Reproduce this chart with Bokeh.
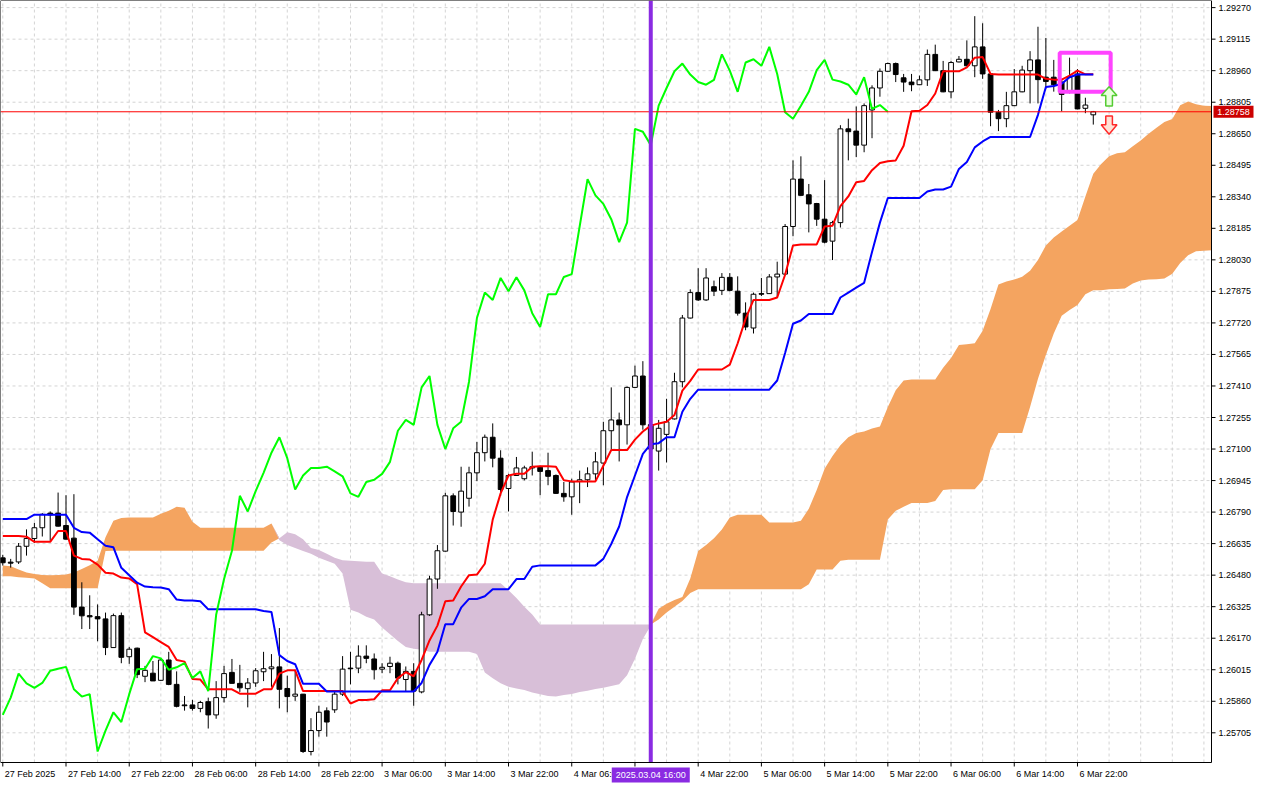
import numpy as np
from bokeh.plotting import figure
from bokeh.models import Range1d
from bokeh.embed import file_html
from bokeh.resources import INLINE
from bokeh.core.properties import value

# ---------------- data (H1 bars) ----------------
opens = [1.26565, 1.26544, 1.26545, 1.26622, 1.26660, 1.26713, 1.26785, 1.26785, 1.26724, 1.26662,
         1.26323, 1.26281, 1.26276, 1.26265, 1.26124, 1.26281, 1.26079, 1.26121, 1.25983, 1.25998,
         1.25963, 1.26063, 1.25943, 1.25842, 1.25842, 1.25825, 1.25858, 1.25793, 1.25878, 1.26002,
         1.25948, 1.25922, 1.25950, 1.26005, 1.26020, 1.26029, 1.25923, 1.25885, 1.25895, 1.25613,
         1.25716, 1.25813, 1.25818, 1.25895, 1.26023, 1.26023, 1.26082, 1.26068, 1.26018, 1.26031,
         1.26047, 1.25967, 1.26007, 1.25906, 1.26285, 1.26461, 1.26598, 1.26870, 1.26790, 1.26858,
         1.26983, 1.27082, 1.27158, 1.27055, 1.26906, 1.26970, 1.26954, 1.27007, 1.27010, 1.26994,
         1.26970, 1.26882, 1.26865, 1.26941, 1.26949, 1.26978, 1.27031, 1.27190, 1.27243, 1.27219,
         1.27403, 1.27459, 1.27220, 1.27090, 1.27172, 1.27248, 1.27431, 1.27744, 1.27869, 1.27833,
         1.27898, 1.27880, 1.27944, 1.27876, 1.27768, 1.27695, 1.27864, 1.27864, 1.27946, 1.27960,
         1.28194, 1.28427, 1.28350, 1.28307, 1.28230, 1.28122, 1.28213, 1.28674, 1.28663, 1.28594,
         1.28767, 1.28875, 1.28957, 1.28995, 1.28925, 1.28904, 1.28891, 1.28915, 1.29040, 1.28960,
         1.28856, 1.29003, 1.29016, 1.28984, 1.29077, 1.28944, 1.28756, 1.28724, 1.28788, 1.28856,
         1.28960, 1.29013, 1.28928, 1.28928, 1.28904, 1.28859, 1.28944, 1.28775, 1.28743]

highs = [1.26580, 1.26560, 1.26638, 1.26705, 1.26737, 1.26785, 1.26793, 1.26886, 1.26873, 1.26878,
         1.26445, 1.26381, 1.26336, 1.26296, 1.26291, 1.26296, 1.26127, 1.26124, 1.26034, 1.26058,
         1.26071, 1.26103, 1.26007, 1.25886, 1.25867, 1.25862, 1.25878, 1.25959, 1.26034, 1.26068,
         1.26039, 1.25974, 1.26023, 1.26103, 1.26092, 1.26220, 1.25986, 1.26015, 1.25896, 1.25777,
         1.25838, 1.25830, 1.25906, 1.26082, 1.26103, 1.26135, 1.26135, 1.26095, 1.26047, 1.26079,
         1.26055, 1.26031, 1.26047, 1.26300, 1.26477, 1.26628, 1.26885, 1.26882, 1.27013, 1.27013,
         1.27135, 1.27171, 1.27226, 1.27094, 1.26978, 1.27061, 1.27018, 1.27087, 1.27018, 1.27082,
         1.26975, 1.26938, 1.26954, 1.26994, 1.27010, 1.27085, 1.27234, 1.27403, 1.27279, 1.27408,
         1.27510, 1.27532, 1.27244, 1.27243, 1.27347, 1.27475, 1.27759, 1.27885, 1.27989, 1.27989,
         1.27928, 1.27965, 1.27965, 1.27949, 1.27821, 1.27869, 1.27941, 1.27960, 1.28021, 1.28206,
         1.28519, 1.28539, 1.28403, 1.28310, 1.28422, 1.28222, 1.28692, 1.28724, 1.28784, 1.28799,
         1.28888, 1.28971, 1.29000, 1.29000, 1.28944, 1.28944, 1.28936, 1.29064, 1.29088, 1.29008,
         1.29008, 1.29032, 1.29109, 1.29228, 1.29193, 1.28946, 1.28767, 1.28856, 1.28968, 1.28984,
         1.29056, 1.29176, 1.29121, 1.29013, 1.28920, 1.29024, 1.28968, 1.28827, 1.28762]

lows = [1.26527, 1.26517, 1.26535, 1.26576, 1.26638, 1.26670, 1.26649, 1.26719, 1.26655, 1.26285,
        1.26215, 1.26215, 1.26155, 1.26087, 1.26122, 1.26047, 1.26044, 1.25974, 1.25954, 1.25960,
        1.25960, 1.25939, 1.25830, 1.25814, 1.25814, 1.25806, 1.25726, 1.25774, 1.25854, 1.25948,
        1.25906, 1.25830, 1.25931, 1.25959, 1.25931, 1.25825, 1.25806, 1.25862, 1.25606, 1.25594,
        1.25686, 1.25686, 1.25803, 1.25886, 1.25943, 1.25998, 1.26047, 1.25967, 1.25998, 1.25998,
        1.25943, 1.25910, 1.25838, 1.25899, 1.26280, 1.26413, 1.26596, 1.26724, 1.26718, 1.26817,
        1.26942, 1.27039, 1.27010, 1.26869, 1.26793, 1.26968, 1.26946, 1.26970, 1.26873, 1.26922,
        1.26880, 1.26841, 1.26777, 1.26834, 1.26913, 1.26946, 1.26922, 1.27098, 1.27039, 1.27122,
        1.27400, 1.27195, 1.27042, 1.26994, 1.27034, 1.27245, 1.27403, 1.27742, 1.27828, 1.27828,
        1.27852, 1.27857, 1.27875, 1.27756, 1.27684, 1.27668, 1.27852, 1.27862, 1.27845, 1.27957,
        1.28146, 1.28345, 1.28165, 1.28197, 1.28111, 1.28029, 1.28189, 1.28519, 1.28535, 1.28559,
        1.28628, 1.28832, 1.28955, 1.28904, 1.28856, 1.28859, 1.28889, 1.28885, 1.28958, 1.28854,
        1.28824, 1.29001, 1.28982, 1.28928, 1.28920, 1.28687, 1.28663, 1.28682, 1.28786, 1.28854,
        1.28799, 1.28799, 1.28872, 1.28857, 1.28760, 1.28848, 1.28770, 1.28751, 1.28695]

closes = [1.26541, 1.26539, 1.26622, 1.26660, 1.26713, 1.26779, 1.26776, 1.26721, 1.26657, 1.26323,
          1.26280, 1.26275, 1.26265, 1.26124, 1.26281, 1.26076, 1.26116, 1.25991, 1.26012, 1.25960,
          1.26063, 1.25943, 1.25835, 1.25838, 1.25825, 1.25854, 1.25793, 1.25878, 1.25996, 1.25948,
          1.25926, 1.25950, 1.26010, 1.26020, 1.26029, 1.25919, 1.25883, 1.25895, 1.25613, 1.25716,
          1.25806, 1.25758, 1.25895, 1.26018, 1.26020, 1.26082, 1.26071, 1.26015, 1.26027, 1.26047,
          1.25974, 1.26007, 1.25910, 1.26285, 1.26461, 1.26600, 1.26870, 1.26793, 1.26893, 1.26983,
          1.27082, 1.27158, 1.27055, 1.26901, 1.26970, 1.27007, 1.27007, 1.27013, 1.26990, 1.26966,
          1.26882, 1.26865, 1.26938, 1.26949, 1.26978, 1.27037, 1.27190, 1.27243, 1.27219, 1.27403,
          1.27459, 1.27219, 1.27100, 1.27202, 1.27234, 1.27431, 1.27744, 1.27869, 1.27833, 1.27941,
          1.27876, 1.27944, 1.27880, 1.27768, 1.27700, 1.27861, 1.27861, 1.27946, 1.27960, 1.28194,
          1.28427, 1.28347, 1.28305, 1.28230, 1.28117, 1.28213, 1.28674, 1.28660, 1.28594, 1.28788,
          1.28875, 1.28957, 1.28995, 1.28941, 1.28904, 1.28891, 1.28915, 1.29040, 1.28960, 1.28856,
          1.29000, 1.29016, 1.28984, 1.29077, 1.28944, 1.28756, 1.28724, 1.28788, 1.28856, 1.28963,
          1.29013, 1.28916, 1.28907, 1.28891, 1.28843, 1.28928, 1.28772, 1.28791, 1.28758]

tenkan = [1.26673, 1.26673, 1.26673, 1.26669, 1.26644, 1.26644, 1.26644, 1.26697, 1.26697, 1.26576,
          1.26560, 1.26557, 1.26532, 1.26492, 1.26488, 1.26468, 1.26464, 1.26435, 1.26199, 1.26175,
          1.26151, 1.26127, 1.26063, 1.26055, 1.25970, 1.25967, 1.25919, 1.25919, 1.25919, 1.25919,
          1.25897, 1.25897, 1.25897, 1.25919, 1.25919, 1.25996, 1.26012, 1.26012, 1.25910, 1.25910,
          1.25910, 1.25910, 1.25910, 1.25910, 1.25849, 1.25866, 1.25866, 1.25870, 1.25914, 1.25914,
          1.25974, 1.26003, 1.25983, 1.26063, 1.26159, 1.26232, 1.26352, 1.26355, 1.26424, 1.26480,
          1.26483, 1.26536, 1.26753, 1.26882, 1.26970, 1.26978, 1.26978, 1.27013, 1.27015, 1.27015,
          1.27013, 1.26946, 1.26941, 1.26941, 1.26941, 1.26941, 1.27018, 1.27095, 1.27095, 1.27095,
          1.27146, 1.27186, 1.27215, 1.27226, 1.27234, 1.27267, 1.27387, 1.27435, 1.27491, 1.27491,
          1.27491, 1.27491, 1.27515, 1.27620, 1.27740, 1.27833, 1.27833, 1.27833, 1.27845, 1.27957,
          1.28101, 1.28106, 1.28106, 1.28106, 1.28194, 1.28198, 1.28294, 1.28342, 1.28411, 1.28418,
          1.28471, 1.28506, 1.28515, 1.28519, 1.28591, 1.28761, 1.28763, 1.28791, 1.28848, 1.28957,
          1.28957, 1.28957, 1.28976, 1.29024, 1.29027, 1.28944, 1.28941, 1.28941, 1.28941, 1.28941,
          1.28941, 1.28941, 1.28920, 1.28916, 1.28916, 1.28936, 1.28960, 1.28942, 1.28942]

kijun = [1.26756, 1.26756, 1.26756, 1.26756, 1.26777, 1.26777, 1.26777, 1.26777, 1.26777, 1.26713,
         1.26692, 1.26689, 1.26657, 1.26625, 1.26617, 1.26516, 1.26480, 1.26443, 1.26424, 1.26421,
         1.26419, 1.26411, 1.26360, 1.26355, 1.26355, 1.26352, 1.26312, 1.26312, 1.26312, 1.26312,
         1.26312, 1.26312, 1.26312, 1.26304, 1.26299, 1.26087, 1.26058, 1.26042, 1.25946, 1.25946,
         1.25946, 1.25908, 1.25908, 1.25908, 1.25908, 1.25908, 1.25908, 1.25908, 1.25908, 1.25908,
         1.25908, 1.25908, 1.25908, 1.25950, 1.26039, 1.26103, 1.26239, 1.26239, 1.26320, 1.26363,
         1.26363, 1.26376, 1.26411, 1.26411, 1.26411, 1.26461, 1.26461, 1.26521, 1.26528, 1.26528,
         1.26528, 1.26528, 1.26528, 1.26528, 1.26528, 1.26528, 1.26560, 1.26633, 1.26719, 1.26864,
         1.26970, 1.27076, 1.27124, 1.27129, 1.27158, 1.27158, 1.27283, 1.27347, 1.27392, 1.27392,
         1.27392, 1.27392, 1.27392, 1.27392, 1.27392, 1.27392, 1.27392, 1.27392, 1.27437, 1.27572,
         1.27716, 1.27732, 1.27764, 1.27764, 1.27764, 1.27764, 1.27845, 1.27869, 1.27893, 1.27917,
         1.28069, 1.28213, 1.28334, 1.28334, 1.28334, 1.28334, 1.28334, 1.28366, 1.28376, 1.28376,
         1.28390, 1.28477, 1.28511, 1.28583, 1.28612, 1.28634, 1.28634, 1.28634, 1.28634, 1.28634,
         1.28634, 1.28743, 1.28880, 1.28885, 1.28896, 1.28928, 1.28941, 1.28941, 1.28941]

# Senkou spans, already displaced 26 bars forward (bar 0 .. 153)
span_a = [1.26528, 1.26524, 1.26508, 1.26493, 1.26486, 1.26481, 1.26480, 1.26481, 1.26483, 1.26493,
          1.26510, 1.26529, 1.26551, 1.26666, 1.26748, 1.26761, 1.26763, 1.26763, 1.26763, 1.26764,
          1.26782, 1.26796, 1.26816, 1.26811, 1.26743, 1.26713, 1.26713, 1.26713, 1.26713, 1.26713,
          1.26713, 1.26713, 1.26713, 1.26713, 1.26734, 1.26652, 1.26628, 1.26613, 1.26599, 1.26585,
          1.26565, 1.26551, 1.26536, 1.26488, 1.26310, 1.26296, 1.26276, 1.26262, 1.26223, 1.26190,
          1.26156, 1.26127, 1.26118, 1.26113, 1.26103, 1.26103, 1.26103, 1.26103, 1.26103, 1.26103,
          1.26093, 1.26002, 1.25973, 1.25949, 1.25932, 1.25923, 1.25915, 1.25903, 1.25894, 1.25886,
          1.25884, 1.25891, 1.25896, 1.25906, 1.25912, 1.25920, 1.25927, 1.25935, 1.25944, 1.25988,
          1.26069, 1.26166, 1.26233, 1.26315, 1.26339, 1.26358, 1.26373, 1.26464, 1.26599, 1.26628,
          1.26662, 1.26705, 1.26763, 1.26777, 1.26777, 1.26777, 1.26777, 1.26739, 1.26739, 1.26739,
          1.26739, 1.26748, 1.26806, 1.26898, 1.27003, 1.27066, 1.27119, 1.27158, 1.27179, 1.27186,
          1.27201, 1.27211, 1.27307, 1.27389, 1.27437, 1.27442, 1.27442, 1.27442, 1.27442, 1.27499,
          1.27548, 1.27611, 1.27615, 1.27620, 1.27682, 1.27788, 1.27909, 1.27923, 1.27933, 1.27947,
          1.27976, 1.28029, 1.28101, 1.28140, 1.28169, 1.28198, 1.28226, 1.28342, 1.28453, 1.28501,
          1.28539, 1.28554, 1.28559, 1.28588, 1.28617, 1.28650, 1.28679, 1.28708, 1.28722, 1.28790,
          1.28809, 1.28795, 1.28787, 1.28786]

span_b = [1.26475, 1.26474, 1.26470, 1.26467, 1.26464, 1.26440, 1.26416, 1.26416, 1.26416, 1.26416,
          1.26416, 1.26416, 1.26416, 1.26599, 1.26600, 1.26600, 1.26600, 1.26600, 1.26600, 1.26600,
          1.26600, 1.26600, 1.26600, 1.26600, 1.26600, 1.26600, 1.26600, 1.26600, 1.26600, 1.26600,
          1.26600, 1.26600, 1.26600, 1.26600, 1.26641, 1.26662, 1.26691, 1.26681, 1.26657, 1.26613,
          1.26604, 1.26585, 1.26565, 1.26553, 1.26551, 1.26548, 1.26546, 1.26546, 1.26488, 1.26474,
          1.26459, 1.26445, 1.26440, 1.26440, 1.26440, 1.26440, 1.26440, 1.26440, 1.26440, 1.26440,
          1.26440, 1.26440, 1.26440, 1.26440, 1.26406, 1.26368, 1.26325, 1.26286, 1.26238, 1.26238,
          1.26238, 1.26238, 1.26238, 1.26238, 1.26238, 1.26238, 1.26238, 1.26238, 1.26238, 1.26238,
          1.26238, 1.26238, 1.26238, 1.26262, 1.26296, 1.26325, 1.26353, 1.26392, 1.26411, 1.26411,
          1.26411, 1.26411, 1.26411, 1.26411, 1.26411, 1.26411, 1.26411, 1.26411, 1.26411, 1.26411,
          1.26411, 1.26411, 1.26435, 1.26508, 1.26508, 1.26508, 1.26551, 1.26556, 1.26556, 1.26556,
          1.26556, 1.26556, 1.26753, 1.26796, 1.26816, 1.26835, 1.26835, 1.26835, 1.26845, 1.26898,
          1.26902, 1.26902, 1.26902, 1.26902, 1.26946, 1.27100, 1.27179, 1.27179, 1.27179, 1.27179,
          1.27307, 1.27446, 1.27562, 1.27668, 1.27755, 1.27784, 1.27808, 1.27861, 1.27880, 1.27880,
          1.27885, 1.27887, 1.27889, 1.27914, 1.27928, 1.27933, 1.27935, 1.27938, 1.27962, 1.28015,
          1.28053, 1.28072, 1.28075, 1.28077]

CHIKOU_SHIFT = 26

time_labels = ["27 Feb 2025", "27 Feb 14:00", "27 Feb 22:00", "28 Feb 06:00", "28 Feb 14:00",
               "28 Feb 22:00", "3 Mar 06:00", "3 Mar 14:00", "3 Mar 22:00", "4 Mar 06:00",
               "4 Mar 14:00", "4 Mar 22:00", "5 Mar 06:00", "5 Mar 14:00", "5 Mar 22:00",
               "6 Mar 06:00", "6 Mar 14:00", "6 Mar 22:00"]
LABEL_STEP = 8
GRID_STEP = 4

price_ticks = [1.29270, 1.29115, 1.28960, 1.28805, 1.28650, 1.28495, 1.28340, 1.28185,
               1.28030, 1.27875, 1.27720, 1.27565, 1.27410, 1.27255, 1.27100, 1.26945,
               1.26790, 1.26635, 1.26480, 1.26325, 1.26170, 1.26015, 1.25860, 1.25705]

last_price = 1.28758
marker_bar = 82
marker_text = "2025.03.04 16:00"

box_left, box_right, box_top, box_bottom = 133.75, 140.2, 1.29048, 1.28856
up_arrow_bar, up_tip, up_neck, up_base = 140, 1.28881, 1.28838, 1.28786
dn_arrow_bar, dn_top, dn_neck, dn_tip = 140, 1.28737, 1.28694, 1.28647

# visible window of the chart
x_start, x_end = -0.29, 152.96
y_low, y_high = 1.25559, 1.29305

FONT = "Liberation Sans"
FSIZE = "9px"

# ---------------- geometry (chart area + price/time scale strips) ----------------
FIG_W, FIG_H = 1264, 784
CHART_W, CHART_H = 1211, 762
kx = CHART_W / (x_end - x_start)      # px per bar
ky = CHART_H / (y_high - y_low)       # px per price unit
fig_x_end = x_start + FIG_W / kx
fig_y_low = y_high - FIG_H / ky

p = figure(width=FIG_W, height=FIG_H, output_backend="svg", toolbar_location=None,
           x_range=Range1d(x_start, fig_x_end), y_range=Range1d(fig_y_low, y_high),
           x_axis_location=None, y_axis_location=None,
           min_border=0, min_border_left=0, min_border_right=0,
           min_border_top=0, min_border_bottom=0)
p.outline_line_color = None
p.background_fill_color = "white"
p.border_fill_color = "white"
p.grid.visible = False

# grid
grid_bars = list(range(0, int(x_end) + 1, GRID_STEP))
p.segment(x0=grid_bars, y0=[y_low] * len(grid_bars), x1=grid_bars, y1=[y_high] * len(grid_bars),
          line_color="#d4d4d4", line_dash="3 3", line_width=1)
p.segment(x0=[x_start] * len(price_ticks), y0=price_ticks, x1=[x_end] * len(price_ticks),
          y1=price_ticks, line_color="#d4d4d4", line_dash="3 3", line_width=1)

# cloud
sa = np.array(span_a)
sb = np.array(span_b)
cx = np.arange(len(sa))
top = np.maximum(sa, sb)
p.varea(x=cx, y1=sb, y2=top, fill_color="#F4A460")
p.varea(x=cx, y1=sa, y2=top, fill_color="#D8BFD8")

# candles
o = np.array(opens); h = np.array(highs); l = np.array(lows); c = np.array(closes)
bars = np.arange(len(c))
p.segment(x0=bars, y0=l, x1=bars, y1=h, line_color="black", line_width=1)
up = c >= o
dn = ~up
p.vbar(x=bars[up], width=0.6, top=c[up], bottom=o[up], fill_color="white",
       line_color="black", line_width=1)
p.vbar(x=bars[dn], width=0.6, top=o[dn], bottom=c[dn], fill_color="black",
       line_color="black", line_width=1)

# ichimoku lines
p.line(bars, tenkan, line_color="#FF0000", line_width=2)
p.line(bars, kijun, line_color="#0000FF", line_width=2)
p.line(bars[:len(c) - CHIKOU_SHIFT], c[CHIKOU_SHIFT:], line_color="#00FF00", line_width=2)

# chart objects
p.quad(left=[box_left], right=[box_right], top=[box_top], bottom=[box_bottom],
       fill_color=None, line_color="#FF44FF", line_width=4)
ub = up_arrow_bar
p.patch([ub, ub + 1.0, ub + 0.42, ub + 0.42, ub - 0.42, ub - 0.42, ub - 1.0],
        [up_tip, up_neck, up_neck, up_base, up_base, up_neck, up_neck],
        fill_color="#eaffdf", line_color="#55cc33", line_width=1.5)
db = dn_arrow_bar
p.patch([db, db + 1.0, db + 0.42, db + 0.42, db - 0.42, db - 0.42, db - 1.0],
        [dn_tip, dn_neck, dn_neck, dn_top, dn_top, dn_neck, dn_neck],
        fill_color="#ffe2d6", line_color="#ff2a2a", line_width=1.5)

# bid line and vertical time marker
p.segment(x0=[x_start], y0=[last_price], x1=[x_end], y1=[last_price],
          line_color="#FF0000", line_width=1)
p.segment(x0=[marker_bar], y0=[y_low], x1=[marker_bar], y1=[y_high],
          line_color="#8A2BE2", line_width=4)

# frame + scale lines
p.quad(left=[x_start], right=[x_end], top=[y_high], bottom=[y_low],
       fill_color=None, line_color="black", line_width=1)

# price scale (right)
tick_len_x = 4 / kx
p.segment(x0=[x_end] * len(price_ticks), y0=price_ticks,
          x1=[x_end + tick_len_x] * len(price_ticks), y1=price_ticks,
          line_color="black", line_width=1)
p.text(x=[x_end + 7 / kx] * len(price_ticks), y=price_ticks,
       text=["%.5f" % t for t in price_ticks],
       text_align="left", text_baseline="middle", text_color="black",
       text_font=value(FONT), text_font_size=value(FSIZE))

# time scale (bottom)
label_bars = [i * LABEL_STEP for i in range(len(time_labels))]
tick_len_y = 4 / ky
p.segment(x0=label_bars, y0=[y_low] * len(label_bars), x1=label_bars,
          y1=[y_low - tick_len_y] * len(label_bars), line_color="black", line_width=1)
MARKER_HALF_W = 40 / kx
shown = [(b, t) for b, t in zip(label_bars, time_labels) if abs(b - marker_bar) > MARKER_HALF_W]
p.text(x=[b + 2 / kx for b, _ in shown], y=[y_low - 11 / ky] * len(shown),
       text=[t for _, t in shown], text_align="left", text_baseline="middle",
       text_color="black", text_font=value(FONT), text_font_size=value(FSIZE))

# time marker tag on the time scale
tag_y = y_low - 12.5 / ky
p.rect(x=[marker_bar], y=[tag_y], width=78, height=15, width_units="screen",
       height_units="screen", fill_color="#8A2BE2", line_color=None)
p.text(x=[marker_bar], y=[tag_y], text=[marker_text], text_align="center",
       text_baseline="middle", text_color="white",
       text_font=value(FONT), text_font_size=value(FSIZE))

# last price tag on the price scale
tag_x = x_end + 22 / kx
p.rect(x=[tag_x], y=[last_price], width=40, height=12, width_units="screen",
       height_units="screen", fill_color="#CC0000", line_color=None)
p.text(x=[tag_x], y=[last_price], text=["%.5f" % last_price], text_align="center",
       text_baseline="middle", text_color="white",
       text_font=value(FONT), text_font_size=value(FSIZE))

open("out.html", "w").write(file_html(p, INLINE))
